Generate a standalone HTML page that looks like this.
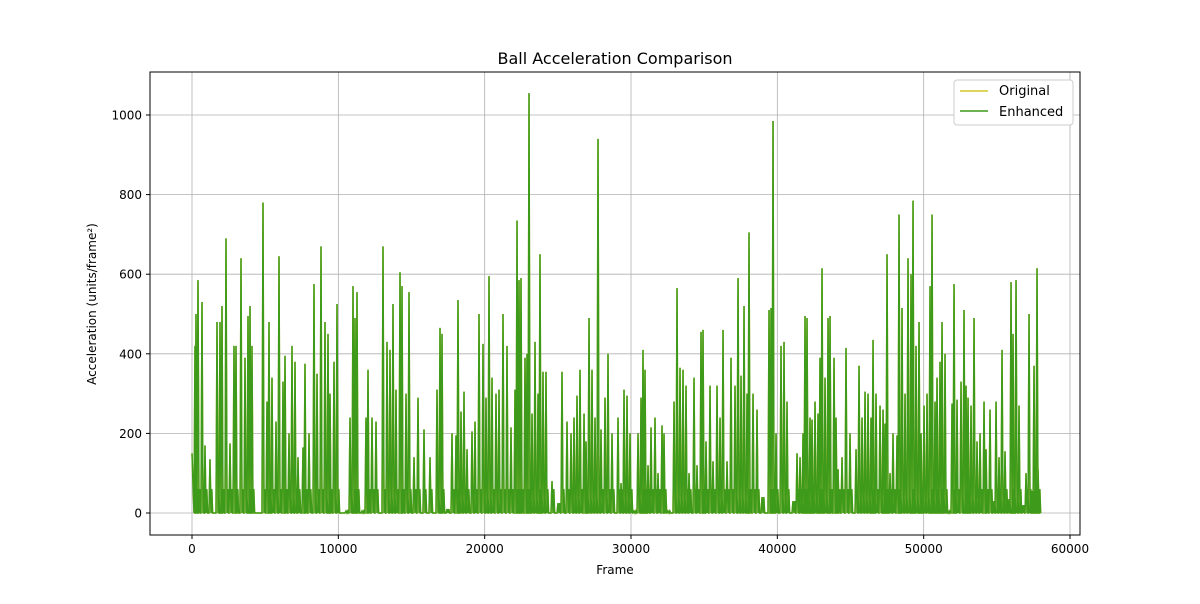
<!DOCTYPE html>
<html><head><meta charset="utf-8"><style>
body{margin:0;background:#fff;font-family:"DejaVu Sans",sans-serif;}
svg text{font-family:"DejaVu Sans","Liberation Sans",sans-serif;fill:#000;}
</style></head><body>
<svg id="chart" width="1200" height="600" xmlns="http://www.w3.org/2000/svg">
<rect width="1200" height="600" fill="#fff"/>
<g id="grid"></g>
<g id="series"></g>
<rect x="150" y="72" width="930" height="463" fill="none" stroke="#000" stroke-width="1"/>
<g id="axes"></g>
<text x="615" y="64" font-size="16" text-anchor="middle">Ball Acceleration Comparison</text>
<text x="615" y="574" font-size="12" text-anchor="middle">Frame</text>
<text transform="translate(96,304) rotate(-90)" font-size="12" text-anchor="middle">Acceleration (units/frame²)</text>
<g>
<rect x="954" y="80" width="119" height="45" fill="#fff" stroke="#ccc" rx="3"/>
<line x1="960" y1="91" x2="988" y2="91" stroke="#d4c72a" stroke-width="1.5"/>
<text x="999" y="95" font-size="13">Original</text>
<line x1="960" y1="111" x2="988" y2="111" stroke="#3d9a1a" stroke-width="1.5"/>
<text x="999" y="116" font-size="13">Enhanced</text>
</g>
</svg>
<script>
const frames=[205,273,410,683,888,1230,1709,1914,2050,2324,2597,2870,3007,3349,3622,3827,3964,4100,4852,5126,5262,5467,5741,5946,6219,6356,6629,6834,7039,7244,7586,7722,7996,8337,8543,8816,9089,9294,9431,9704,9909,10524,10798,11003,11139,11276,11618,11891,12028,12301,12575,13053,13326,13531,13736,13941,14215,14351,14625,14830,15171,15445,15855,16265,16743,16948,17085,17427,17768,18042,18178,18383,18588,18794,19135,19340,19614,19887,20092,20297,20502,20775,20980,21254,21527,21800,22074,22211,22347,22484,22757,22894,23031,23236,23441,23646,23782,23987,24192,24602,25012,25286,25628,25901,26106,26311,26516,26790,26927,27132,27336,27541,27746,27951,28224,28429,28703,29113,29318,29523,29728,29933,30206,30480,30685,30821,30958,31163,31368,31641,31846,32120,32256,32530,32940,33145,33350,33555,33760,33965,34307,34512,34785,34922,35127,35400,35605,35879,36084,36289,36562,36835,37109,37314,37519,37724,37929,38065,38339,38612,38954,39432,39569,39706,39911,40252,40457,40662,41072,41346,41551,41756,41892,42029,42234,42371,42576,42781,42917,43054,43259,43466,43601,43874,44011,44148,44421,44694,44968,45378,45583,45788,45993,46198,46403,46540,46745,47018,47224,47360,47497,47701,47906,48180,48316,48521,48726,48931,49136,49273,49478,49683,49820,50025,50230,50435,50572,50777,50913,51118,51255,51460,51665,51938,52075,52280,52553,52758,52895,53032,53237,53442,53647,53852,54125,54262,54535,54740,54946,55150,55355,55561,55765,55970,56107,56312,56517,56722,56996,57201,57406,57542,57747,57816];
const enhanced=[420,500,585,530,170,135,480,480,520,690,175,420,420,640,390,495,520,420,780,280,480,340,230,645,330,395,200,420,380,140,165,375,200,575,350,670,480,450,300,380,525,5,240,570,490,555,5,240,360,240,230,670,430,410,525,310,605,570,300,555,140,290,210,140,310,465,450,10,200,195,535,255,305,160,205,230,500,425,290,595,340,300,310,500,420,215,310,735,585,590,390,400,1055,250,430,300,650,355,355,80,25,355,230,200,240,295,360,250,180,490,360,240,940,210,290,400,200,240,75,310,295,200,5,200,290,410,360,120,215,240,100,220,200,5,280,565,365,360,320,100,340,120,455,460,180,320,130,320,240,460,130,390,320,590,345,520,300,705,300,260,40,510,515,985,200,420,430,280,30,150,140,200,495,490,240,235,280,250,390,615,340,490,495,390,240,110,140,415,200,160,370,240,305,300,240,435,300,270,260,225,650,100,200,195,750,515,300,640,600,785,420,480,200,270,300,570,750,280,340,380,480,400,5,275,575,285,330,510,320,290,270,490,180,200,280,160,260,30,280,140,410,155,35,580,450,585,270,20,100,500,55,370,615,110];
const original=enhanced.slice();
const xTicks=[0,10000,20000,30000,40000,50000,60000];
const yTicks=[0,200,400,600,800,1000];
const X=f=>192+f*878/60000, Y=v=>513-v*0.398;
const NS="http://www.w3.org/2000/svg";
const grid=document.getElementById('grid'),axes=document.getElementById('axes'),series=document.getElementById('series');
function mk(tag,attrs,parent){const e=document.createElementNS(NS,tag);for(const k in attrs)e.setAttribute(k,attrs[k]);parent.appendChild(e);return e;}
xTicks.forEach(t=>{
 const g=mk('line',{x1:X(t),x2:X(t),y1:72,y2:535,stroke:'#b0b0b0','stroke-width':0.8},grid);
 
 
 mk('line',{x1:X(t),x2:X(t),y1:535,y2:539,stroke:'#000'},axes);
 const tx=mk('text',{x:X(t),y:553,'font-size':12,'text-anchor':'middle'},axes);tx.textContent=t;
 
 
});
yTicks.forEach(t=>{
 const g=mk('line',{x1:150,x2:1080,y1:Y(t),y2:Y(t),stroke:'#b0b0b0','stroke-width':0.8},grid);
 
 
 mk('line',{x1:146,x2:150,y1:Y(t),y2:Y(t),stroke:'#000'},axes);
 const tx=mk('text',{x:142,y:Y(t)+4.5,'font-size':12,'text-anchor':'end'},axes);tx.textContent=t;
 
 
});
function path(vals){let d=`M${X(0)},${Y(150)}`;frames.forEach((f,i)=>{d+=` L${X(f)-1},${Y(0)} L${X(f)},${Y(vals[i])} L${X(f)+1},${Y(0)} L${X(f)+1.8},${Y(Math.min(60,vals[i]))} L${X(f)+2.6},${Y(0)}`;});return d;}
const po=mk('path',{d:path(original),fill:'none',stroke:'#d4c72a','stroke-width':1.5},series);


const pe=mk('path',{d:path(enhanced),fill:'none',stroke:'#3d9a1a','stroke-width':1.5},series);


</script>
</body></html>
